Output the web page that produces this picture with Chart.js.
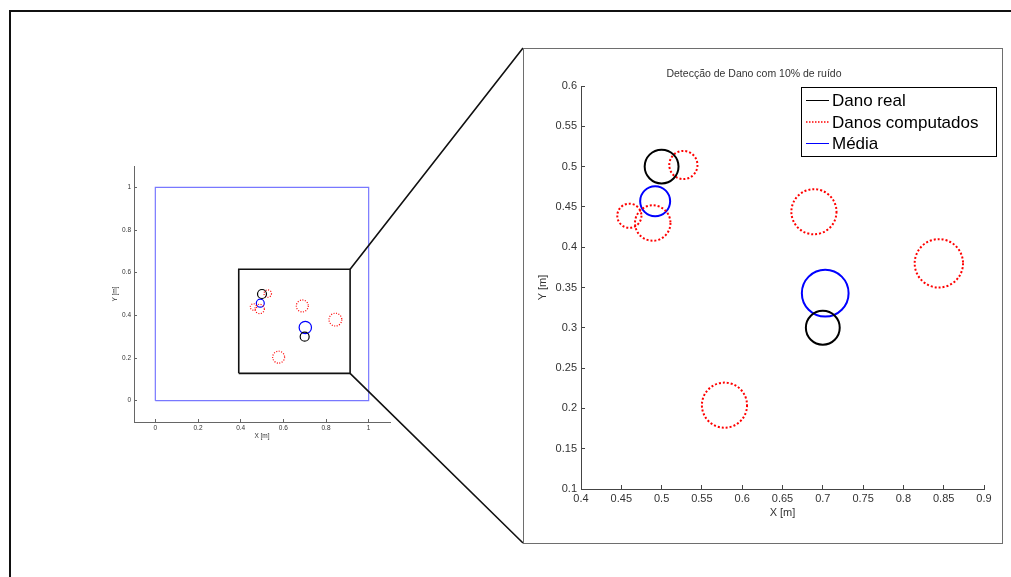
<!DOCTYPE html>
<html>
<head>
<meta charset="utf-8">
<script src="https://cdn.jsdelivr.net/npm/chart.js@4.4.1/dist/chart.umd.min.js"></script>
<style>
  html, body { margin: 0; padding: 0; background: #fff; }
  body { width: 1011px; height: 577px; position: relative; overflow: hidden; }
  #overview { position: absolute; left: 0; top: 0; }
  #zoomBox { position: absolute; left: 523px; top: 48px; width: 480px; height: 496px;
             box-sizing: border-box; border: 1px solid #6e6e6e; background: #fff; }
  #zoom { position: absolute; left: 0; top: 0; }
  #frameTop { position: absolute; left: 9px; top: 10px; width: 1002px; height: 2px; background: #111; }
  #frameLeft { position: absolute; left: 9px; top: 10px; width: 2px; height: 567px; background: #111; }
</style>
</head>
<body>
<canvas id="overview" width="524" height="577"></canvas>
<div id="zoomBox"><canvas id="zoom" width="478" height="494"></canvas></div>
<div id="frameTop"></div>
<div id="frameLeft"></div>
<script>
// circle centres and radii (metres)
var realX = [0.5, 0.7];
var realY = [0.5, 0.3];
var realR = [0.021, 0.021];

var compX = [0.527, 0.46, 0.489, 0.578, 0.689, 0.844];
var compY = [0.502, 0.439, 0.43, 0.204, 0.444, 0.38];
var compR = [0.0175, 0.015, 0.022, 0.028, 0.028, 0.03];

var meanX = [0.492, 0.703];
var meanY = [0.457, 0.343];
var meanR = [0.0186, 0.029];

// plate outline and zoom rectangle on the overview
var plateX = [0, 1, 1, 0, 0];
var plateY = [0, 0, 1, 1, 0];
var zoomRectX = [0.391, 0.913, 0.913, 0.391, 0.391];
var zoomRectY = [0.128, 0.128, 0.616, 0.616, 0.128];

// tick labels
var overviewTicks = [0, 0.2, 0.4, 0.6, 0.8, 1];
var zoomXTicks = [0.4, 0.45, 0.5, 0.55, 0.6, 0.65, 0.7, 0.75, 0.8, 0.85, 0.9];
var zoomYTicks = [0.1, 0.15, 0.2, 0.25, 0.3, 0.35, 0.4, 0.45, 0.5, 0.55, 0.6];

var seriesNames = ['Dano real', 'Danos computados', 'Média'];
var titleText = 'Detecção de Dano com 10% de ruído';

var FONT = '"Liberation Sans", Arial, Helvetica, sans-serif';

function toPoints(xs, ys, rs) {
    return xs.map(function(x, i) {
        return rs ? {x: x, y: ys[i], r: rs[i]} : {x: x, y: ys[i]};
    });
}

// pixels per metre along x (both axes have the same aspect)
function unitPx(chart) {
    var s = chart.scales.x;
    return s.width / (s.max - s.min);
}

function circleRadius(ctx) {
    return ctx.raw ? ctx.raw.r * unitPx(ctx.chart) : 0;
}

function circleSets(width, dash) {
    return [
        {label: seriesNames[0], data: toPoints(realX, realY, realR), pointBorderColor: '#000000', lineW: width},
        {label: seriesNames[1], data: toPoints(compX, compY, compR), pointBorderColor: '#ff0000', lineW: width, dash: dash},
        {label: seriesNames[2], data: toPoints(meanX, meanY, meanR), pointBorderColor: '#0000ff', lineW: width}
    ].map(function(ds) {
        ds.inLegend = true;
        ds.pointRadius = circleRadius;
        ds.pointBorderWidth = width;
        ds.pointBackgroundColor = 'rgba(0,0,0,0)';
        ds.showLine = false;
        return ds;
    });
}

function axis(cfg) {
    return {
        type: 'linear',
        position: cfg.position,
        min: cfg.min,
        max: cfg.max,
        afterBuildTicks: function(scale) {
            scale.ticks = cfg.ticks.map(function(v) { return {value: v}; });
        },
        afterFit: function(scale) {
            if (cfg.position === 'bottom') scale.height = cfg.size;
            else scale.width = cfg.size;
        },
        border: {display: true, color: cfg.color, width: 1},
        grid: {display: true, drawOnChartArea: false, drawTicks: true, tickLength: -cfg.tick, color: cfg.color, lineWidth: 1},
        ticks: {
            autoSkip: false,
            maxRotation: 0,
            padding: cfg.tickPad,
            color: '#333',
            font: {family: FONT, size: cfg.fontSize},
            callback: function(value) { return String(value); }
        },
        title: {
            display: true,
            text: cfg.title,
            color: '#333',
            font: {family: FONT, size: cfg.fontSize, lineHeight: 1.2},
            padding: cfg.position === 'bottom' ? {top: 0, bottom: cfg.titlePad} : {top: cfg.titlePad, bottom: 0}
        }
    };
}

// dotted style for the computed circles
var dashPlugin = {
    id: 'dashPlugin',
    beforeDatasetDraw: function(chart, args) {
        var ds = chart.data.datasets[args.index];
        chart.ctx.save();
        chart.ctx.setLineDash(ds.dash || []);
    },
    afterDatasetDraw: function(chart) {
        chart.ctx.restore();
    }
};

// MATLAB-like boxed legend in the upper right of the zoomed axes
var legendBox = {
    id: 'legendBox',
    afterDraw: function(chart) {
        var ctx = chart.ctx, a = chart.chartArea;
        var left = Math.round(a.left + 220), top = Math.round(a.top + 1), w = 195, h = 69;
        ctx.save();
        ctx.fillStyle = '#fff';
        ctx.fillRect(left, top, w, h);
        ctx.strokeStyle = '#000';
        ctx.lineWidth = 1;
        ctx.strokeRect(left + 0.5, top + 0.5, w, h);
        ctx.font = '17px ' + FONT;
        ctx.textBaseline = 'middle';
        var row = 0;
        chart.data.datasets.forEach(function(ds) {
            if (!ds.inLegend) return;
            var y = top + 13.5 + row * 21.5;
            ctx.strokeStyle = ds.pointBorderColor;
            ctx.lineWidth = ds.dash ? 1.5 : 1;
            ctx.setLineDash(ds.dash ? [1.5, 1.5] : []);
            ctx.beginPath();
            ctx.moveTo(left + 5, y);
            ctx.lineTo(left + 28, y);
            ctx.stroke();
            ctx.setLineDash([]);
            ctx.fillStyle = '#000';
            ctx.fillText(ds.label, left + 31, y + 1);
            row++;
        });
        ctx.restore();
    }
};

// lines from the zoom rectangle to the corners of the zoomed figure box
var zoomLines = {
    id: 'zoomLines',
    afterDraw: function(chart) {
        var box = document.getElementById('zoomBox');
        var xs = chart.scales.x, ys = chart.scales.y, ctx = chart.ctx;
        var rx = xs.getPixelForValue(zoomRectX[1]);
        var ry1 = ys.getPixelForValue(zoomRectY[2]);
        var ry2 = ys.getPixelForValue(zoomRectY[0]);
        ctx.save();
        ctx.strokeStyle = '#111';
        ctx.lineWidth = 1.6;
        ctx.beginPath();
        ctx.moveTo(rx, ry1);
        ctx.lineTo(box.offsetLeft, box.offsetTop);
        ctx.moveTo(rx, ry2);
        ctx.lineTo(box.offsetLeft, box.offsetTop + box.offsetHeight - 1);
        ctx.stroke();
        ctx.restore();
    }
};

// overview of the whole plate
var overviewSets = [
    {data: toPoints(plateX, plateY), showLine: true, borderColor: '#7878ff', borderWidth: 1.2, pointRadius: 0},
    {data: toPoints(zoomRectX, zoomRectY), showLine: true, borderColor: '#111', borderWidth: 1.6, pointRadius: 0}
].concat(circleSets(1.2, [1, 1.5]));

new Chart(document.getElementById('overview'), {
    type: 'scatter',
    data: {datasets: overviewSets},
    options: {
        responsive: false,
        animation: false,
        events: [],
        layout: {padding: {left: 100, top: 166, right: 134, bottom: 135}},
        plugins: {legend: {display: false}, tooltip: {enabled: false}},
        scales: {
            x: axis({position: 'bottom', min: -0.1, max: 1.1, ticks: overviewTicks, size: 20, tick: 3,
                     tickPad: 5, fontSize: 6.5, title: 'X [m]', titlePad: 2, color: '#666'}),
            y: axis({position: 'left', min: -0.1, max: 1.1, ticks: overviewTicks, size: 34, tick: 3,
                     tickPad: 6, fontSize: 6.5, title: 'Y [m]', titlePad: 11, color: '#666'})
        }
    },
    plugins: [dashPlugin, zoomLines]
});

// zoomed detail
new Chart(document.getElementById('zoom'), {
    type: 'scatter',
    data: {datasets: circleSets(2, [2, 2])},
    options: {
        responsive: false,
        animation: false,
        events: [],
        layout: {padding: {left: 0, top: 0, right: 18, bottom: 0}},
        plugins: {
            legend: {display: false},
            tooltip: {enabled: false},
            title: {
                display: true,
                text: titleText,
                color: '#333',
                font: {family: FONT, size: 10.5, weight: 'normal', lineHeight: 1.2},
                padding: {top: 19, bottom: 5.4}
            }
        },
        scales: {
            x: axis({position: 'bottom', min: 0.4, max: 0.9, ticks: zoomXTicks, size: 54, tick: 4,
                     tickPad: 7, fontSize: 11, title: 'X [m]', titlePad: 23.9, color: '#444'}),
            y: axis({position: 'left', min: 0.1, max: 0.6, ticks: zoomYTicks, size: 57, tick: 4,
                     tickPad: 8, fontSize: 11, title: 'Y [m]', titlePad: 12.4, color: '#444'})
        }
    },
    plugins: [dashPlugin, legendBox]
});
</script>
</body>
</html>
